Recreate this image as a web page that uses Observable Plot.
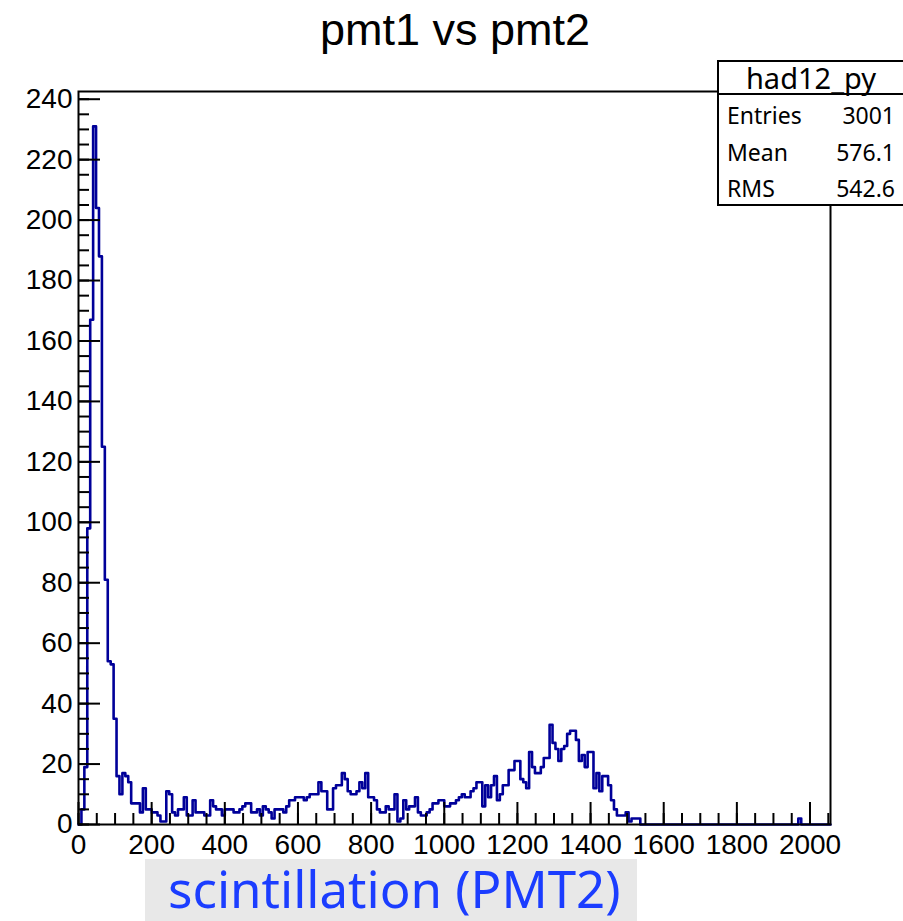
<!DOCTYPE html>
<html>
<head>
<meta charset="utf-8">
<script src="https://cdn.jsdelivr.net/npm/d3@7"></script>
<script src="https://cdn.jsdelivr.net/npm/@observablehq/plot@0.6"></script>
<style>
  body { margin: 0; background: #fff; }
  #wrap { position: relative; width: 903px; height: 921px; overflow: hidden;
          font-family: "Liberation Sans", Arial, Helvetica, sans-serif; color: #000; }
  #chart { position: absolute; left: 0; top: 0; }
  #title { position: absolute; left: 0; width: 910px; top: 8px; text-align: center;
           font-size: 45px; line-height: 44px; }
  #stats { position: absolute; left: 717px; top: 60px; width: 188px; height: 142px;
           border: 2px solid #000; background: #fff; font-family: "Noto Sans", sans-serif; }
  #stats .head { position: absolute; left: 0; top: 0; width: 184px; height: 31px;
                 text-align: center; font-size: 29px; line-height: 31px; }
  #stats .sep { position: absolute; left: 0; top: 31px; width: 188px; height: 2px; background: #000; }
  #stats .row { position: absolute; left: 8px; width: 168px; height: 36px; font-size: 23px; line-height: 36px; }
  #stats .row .v { position: absolute; right: 0; top: 0; }
  #xlabel { position: absolute; left: 145px; top: 859px; width: 492px; height: 62px; background: #e8e8e8; }
  #xlabel span { position: absolute; left: 23px; top: 4px; font-family: "Noto Sans", sans-serif;
                 font-size: 51px; line-height: 51px; color: #1b3dff; white-space: nowrap; }
</style>
</head>
<body>
<div id="wrap">
  <div id="chart"></div>
  <div id="title"></div>
  <div id="stats"></div>
  <div id="xlabel"><span></span></div>
</div>
<script>
// ---- data (bin width 8, starting at 0) ----
const binWidth = 8;
const xMax = 2056;
const counts = [
  0, 5, 19, 98, 167, 231, 204, 188, 125, 81,      // 0-9
  54, 53, 35, 16, 10, 17, 16, 14, 7, 7,           // 10-19
  7, 4, 12, 5, 5, 4, 4, 3, 1, 1,                  // 20-29
  11, 10, 4, 3, 5, 5, 9, 3, 3, 8,                 // 30-39
  4, 4, 4, 3, 3, 8, 6, 5, 5, 3,                   // 40-49
  5, 5, 5, 4, 4, 5, 6, 7, 7, 4,                   // 50-59
  4, 5, 3, 6, 5, 4, 2, 5, 5, 5,                   // 60-69
  4, 6, 8, 8, 9, 9, 9, 8, 9, 10,                  // 70-79
  10, 10, 14, 11, 11, 5, 5, 12, 13, 13,           // 80-89
  17, 15, 11, 10, 10, 11, 14, 12, 17, 9,          // 90-99
  9, 8, 5, 4, 4, 6, 5, 5, 10, 1,                  // 100-109
  2, 8, 5, 6, 6, 9, 4, 3, 3, 4,                   // 110-119
  5, 7, 7, 8, 8, 6, 6, 7, 7, 8,                   // 120-129
  9, 10, 9, 9, 11, 12, 14, 14, 6, 13,             // 130-139
  9, 13, 16, 8, 10, 13, 13, 18, 18, 21,           // 140-149
  21, 15, 14, 12, 24, 19, 17, 17, 19, 22,         // 150-159
  22, 33, 27, 25, 21, 25, 26, 30, 31, 31,         // 160-169
  28, 21, 23, 19, 24, 24, 12, 17, 11, 16,         // 170-179
  16, 13, 8, 5, 3, 3, 3, 4, 1, 2,                 // 180-189
  2, 2, 0, 0, 0, 0, 0, 0, 0, 0,                   // 190-199
  0, 0, 0, 0, 0, 0, 0, 0, 0, 0,                   // 200-209
  0, 0, 0, 0, 0, 0, 0, 0, 0, 0,                   // 210-219
  0, 0, 0, 0, 0, 0, 0, 0, 0, 0,                   // 220-229
  0, 0, 0, 0, 0, 0, 0, 0, 0, 0,                   // 230-239
  0, 0, 0, 0, 0, 0, 2, 0, 0, 0,                   // 240-249
  0, 0, 0, 0, 0, 0, 0                             // 250-256
];
const yMajorTicks = [0, 20, 40, 60, 80, 100, 120, 140, 160, 180, 200, 220, 240];
const yMinorStep = 5;
const xMajorTicks = [0, 200, 400, 600, 800, 1000, 1200, 1400, 1600, 1800, 2000];
const xMinorStep = 50;
const titleText = "pmt1 vs pmt2";
const xLabelText = "scintillation (PMT2)";
const statsTitle = "had12_py";
const statsLabels = ["Entries", "Mean", "RMS"];
const statsValues = ["3001", "576.1", "542.6"];

// ---- derived ----
const yMax = d3.max(counts) * 1.05;
const yMinorTicks = d3.range(0, yMax, yMinorStep);
const xMinorTicks = d3.range(0, xMax + 1, xMinorStep);
const outline = counts.map((c, i) => ({x: i * binWidth, y: c}));
outline.push({x: counts.length * binWidth, y: counts[counts.length - 1]});

const chart = Plot.plot({
  width: 903,
  height: 921,
  marginLeft: 78,
  marginRight: 73,
  marginTop: 91,
  marginBottom: 97,
  x: {domain: [0, xMax], label: null},
  y: {domain: [0, yMax], label: null},
  style: {fontFamily: "'Liberation Sans', Arial, Helvetica, sans-serif", fontSize: "28px", background: "white", color: "black"},
  marks: [
    Plot.line(outline, {x: "x", y: "y", curve: "step-after", stroke: "#000099", strokeWidth: 2.6}),
    Plot.axisY(yMinorTicks, {tickSize: -11, fill: "none", strokeWidth: 2, label: null}),
    Plot.axisY(yMajorTicks, {tickSize: -22, tickPadding: 28, strokeWidth: 2, fontSize: 28, label: null, tickFormat: d => String(d)}),
    Plot.axisX(xMinorTicks, {tickSize: -11, fill: "none", strokeWidth: 2, label: null}),
    Plot.axisX(xMajorTicks, {tickSize: -22, tickPadding: 32, strokeWidth: 2, fontSize: 28, label: null, tickFormat: d => String(d)}),
    Plot.frame({stroke: "black", strokeWidth: 2})
  ]
});
document.getElementById("chart").appendChild(chart);

document.getElementById("title").textContent = titleText;
document.querySelector("#xlabel span").textContent = xLabelText;

const stats = document.getElementById("stats");
let html = `<div class="head">${statsTitle}</div><div class="sep"></div>`;
statsLabels.forEach((lab, i) => {
  html += `<div class="row" style="top:${35 + i * 36.5}px"><span>${lab}</span><span class="v">${statsValues[i]}</span></div>`;
});
stats.innerHTML = html;
</script>
</body>
</html>
